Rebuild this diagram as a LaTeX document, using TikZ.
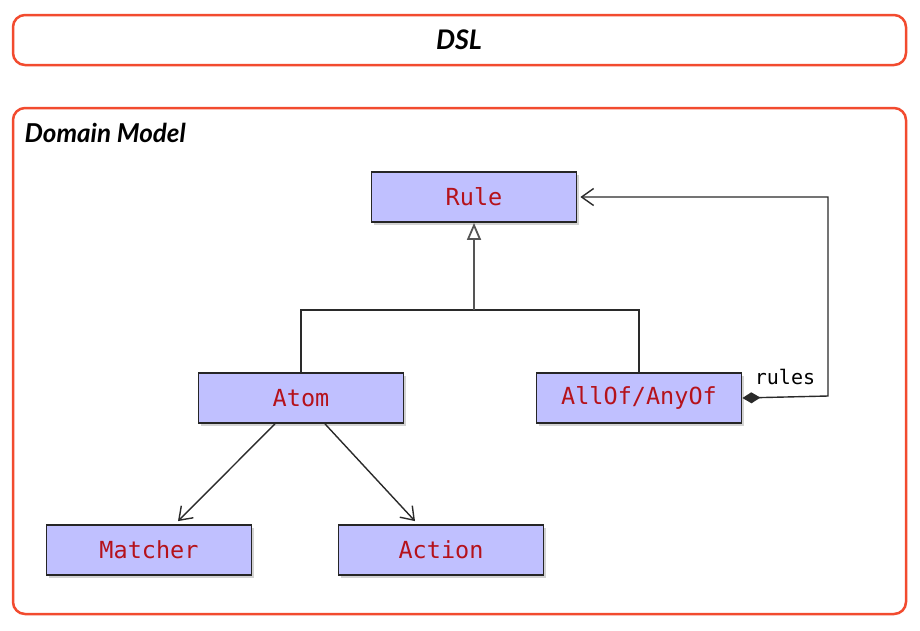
\documentclass[tikz,border=0pt]{standalone}
\usepackage{fontspec}
\setmainfont{Lato}
\setmonofont{DejaVu Sans Mono}
\usepackage{tikz}
\usetikzlibrary{positioning,arrows.meta,shadows}
\definecolor{Frame}{HTML}{F24B2F}
\definecolor{ClassFill}{HTML}{C0C0FF}
\definecolor{ClassText}{HTML}{B5121B}
\definecolor{Wire}{HTML}{2A2A2A}

\tikzset{
	layer/.style={draw=Frame, line width=2.5pt, rounded corners=12pt},
	klass/.style={draw=black!85, line width=1.8pt, fill=ClassFill,
		minimum width=205pt, minimum height=50pt, inner sep=0pt,
		font=\fontsize{23.5}{23.5}\selectfont\ttfamily, text=ClassText,
		drop shadow={shadow xshift=2.5pt, shadow yshift=-2.5pt, opacity=0.35}},
	wire/.style={draw=Wire, line width=1.4pt},
	inherits/.style={wire, -{Triangle[open, length=17pt, width=14pt, line width=1.8pt]}},
	uses/.style={wire, -{Straight Barb[length=12pt, width=17pt, line width=1.4pt]}}
}

\begin{document}
\begin{tikzpicture}[x=1pt, y=-1pt]
	\useasboundingbox (0,0) rectangle (920,630);

	% layers
	\draw[layer] (13,15) rectangle (906,65);
	\node[font=\fontsize{27}{27}\selectfont\bfseries\itshape] (dsl) at (459,40) {DSL};
	\draw[layer] (13,108) rectangle (906,614);
	\node[anchor=west, font=\fontsize{26}{26}\selectfont\bfseries\itshape] (domain) at (21,133) {Domain Model};

	% classes
	\node[klass] (rule) at (474,197) {Rule};
	\node[klass] (atom) at (301,398) {Atom};
	\node[klass] (group) at (639,398) {AllOf/AnyOf};
	\node[klass] (matcher) at (149,550) {Matcher};
	\node[klass] (action) at (441,550) {Action};

	% generalisation
	\coordinate (fork) at (474,310);
	\draw[wire] (atom.north) |- (fork) -| (group.north);
	\draw[inherits, line width=2pt, draw=Wire!80] (fork) -- (rule.south);

	% associations
	\draw[uses] ([xshift=-26pt]atom.south) -- ([xshift=29pt, yshift=3pt]matcher.north);
	\draw[uses] ([xshift=24pt]atom.south) -- ([xshift=-26pt, yshift=3pt]action.north);

	% composite link back to rule
	\coordinate (loop) at (828,396);
	\draw[uses, {Diamond[length=18pt, width=11pt]}-{Straight Barb[length=12pt, width=17pt, line width=1.4pt]}]
		(group.east) -- (loop) |- ([xshift=3pt]rule.east);
	\node[font=\fontsize{20}{20}\selectfont\ttfamily] (rules) at (785,377) {rules};
\end{tikzpicture}
\end{document}
